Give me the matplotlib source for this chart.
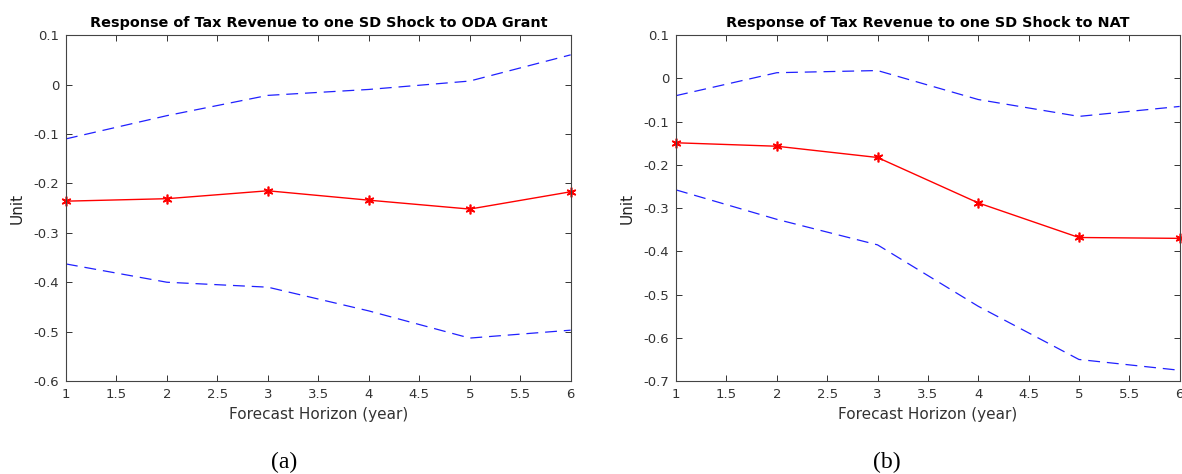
import numpy as np
import matplotlib
matplotlib.use('Agg')
import matplotlib.pyplot as plt

horizon = [1, 2, 3, 4, 5, 6]

# panel (a): shock to ODA Grant
oda_resp = [-0.236, -0.231, -0.215, -0.234, -0.252, -0.217]
oda_upper = [-0.110, -0.063, -0.022, -0.010, 0.007, 0.060]
oda_lower = [-0.363, -0.400, -0.410, -0.458, -0.513, -0.497]

# panel (b): shock to NAT
nat_resp = [-0.149, -0.157, -0.183, -0.288, -0.368, -0.370]
nat_upper = [-0.040, 0.013, 0.018, -0.049, -0.088, -0.065]
nat_lower = [-0.258, -0.326, -0.385, -0.527, -0.650, -0.675]

titles = ['Response of Tax Revenue to one SD Shock to ODA Grant',
          'Response of Tax Revenue to one SD Shock to NAT']
panel_tags = ['(a)', '(b)']
ylims = [(-0.6, 0.1), (-0.7, 0.1)]

plt.rcParams['font.family'] = ['DejaVu Sans']
fig = plt.figure(figsize=(11.82, 4.74), dpi=100)
ax1 = fig.add_axes([0.0558, 0.196, 0.427, 0.730])
ax2 = fig.add_axes([0.572, 0.196, 0.426, 0.730])
tag_x = [0.240, 0.750]

data = [(oda_resp, oda_upper, oda_lower), (nat_resp, nat_upper, nat_lower)]
for ax, (resp, up, lo), title, tag, yl, tx in zip([ax1, ax2], data, titles, panel_tags, ylims, tag_x):
    # confidence bands
    ax.plot(horizon, up, color='#2020ff', ls=(0, (9.5, 5.5)), lw=0.9)
    ax.plot(horizon, lo, color='#2020ff', ls=(0, (9.5, 5.5)), lw=0.9)
    ax.plot(horizon, resp, color='red', lw=1.0, marker=(6, 2, 0), ms=7, mew=1.2, clip_on=False)
    ax.set_xlim(1, 6)
    ax.set_ylim(*yl)
    ax.set_xticks(np.arange(1, 6.01, 0.5))
    ax.set_xticklabels(['1', '1.5', '2', '2.5', '3', '3.5', '4', '4.5', '5', '5.5', '6'])
    yt = np.round(np.arange(yl[0], yl[1] + 0.001, 0.1), 1)
    ax.set_yticks(yt)
    ax.set_yticklabels(['0' if v == 0 else '%g' % v for v in yt])
    ax.tick_params(direction='in', top=True, right=True, labelsize=9.5, colors='#333333',
                   length=4, width=0.7, pad=5)
    for s in ax.spines.values():
        s.set_color('#444444')
        s.set_linewidth(0.8)
    ax.set_title(title, fontsize=10.4, fontweight='bold', pad=6)
    ax.set_xlabel('Forecast Horizon (year)', fontsize=11, color='#333333')
    ax.set_ylabel('Unit', fontsize=11, color='#222222', labelpad=6)
    fig.text(tx, 0.025, tag, ha='center', va='center',
             fontsize=17, family=['Liberation Serif', 'DejaVu Serif'])

fig.savefig('out.png', dpi=100)
